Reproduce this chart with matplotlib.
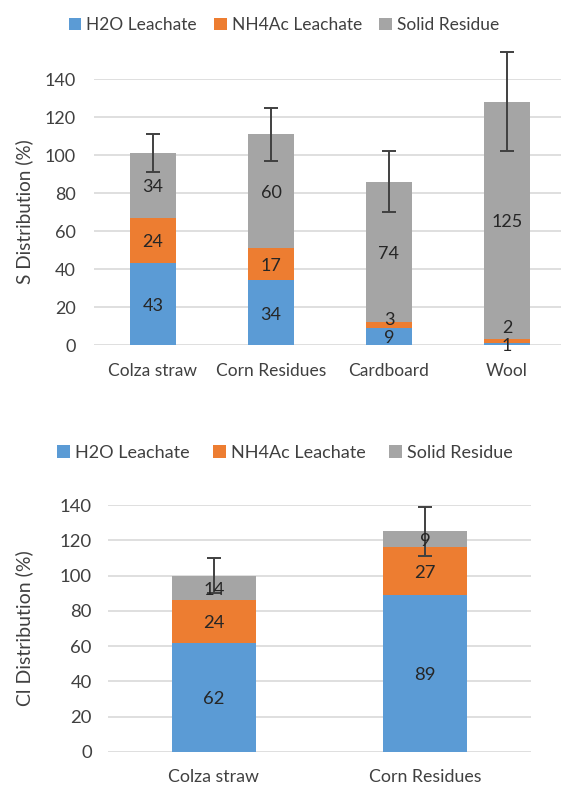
import numpy as np
import matplotlib.pyplot as plt
from matplotlib.patches import Patch

plt.rcParams['font.family'] = ['Lato', 'DejaVu Sans']

series = ['H2O Leachate', 'NH4Ac Leachate', 'Solid Residue']
colors = ['#5B9BD5', '#ED7D31', '#A5A5A5']

# S distribution (%)
s_cats = ['Colza straw', 'Corn Residues', 'Cardboard', 'Wool']
s_h2o = [43, 34, 9, 1]
s_nh4ac = [24, 17, 3, 2]
s_solid = [34, 60, 74, 125]
s_err = [10, 14, 16, 26]

# Cl distribution (%)
cl_cats = ['Colza straw', 'Corn Residues']
cl_h2o = [62, 89]
cl_nh4ac = [24, 27]
cl_solid = [14, 9]
cl_err = [10, 14]

W, H = 561, 789
fig = plt.figure(figsize=(W / 100, H / 100), dpi=100)


def draw(ax, cats, stacks, err, width, ylabel, fs, labpad, xpad, ypad):
    x = np.arange(len(cats))
    bottom = np.zeros(len(cats))
    prev = np.full(len(cats), -1e9)
    for vals, col in zip(stacks, colors):
        vals = np.array(vals, dtype=float)
        ax.bar(x, vals, width, bottom=bottom, color=col, zorder=2)
        for i, v in enumerate(vals):
            yc = max(bottom[i] + v / 2 - 1, prev[i] + 9.5)
            prev[i] = yc
            ax.text(x[i], yc, '%d' % v, ha='center', va='center',
                    fontsize=fs + 1, color='#262626', zorder=4)
        bottom += vals
    eb = ax.errorbar(x, bottom, yerr=err, fmt='none', ecolor='#404040',
                     elinewidth=1.4, capsize=5, capthick=1.4, zorder=3)
    for art in eb.lines[1] + eb.lines[2]:
        art.set_clip_on(False)
    ax.set_xlim(-0.5, len(cats) - 0.5)
    ax.set_ylim(0, 140)
    ax.set_yticks(range(0, 141, 20))
    ax.set_xticks(x)
    ax.set_xticklabels(cats)
    ax.yaxis.grid(True, color='#D9D9D9', linewidth=1.2)
    ax.set_axisbelow(True)
    for sp in ax.spines.values():
        sp.set_visible(False)
    ax.tick_params(length=0, colors='#404040')
    ax.tick_params(axis='x', pad=xpad, labelsize=fs + 0.5)
    ax.tick_params(axis='y', pad=ypad, labelsize=fs + 1)
    ax.set_ylabel(ylabel, fontsize=fs + 1.7, color='#404040')
    ax.yaxis.set_label_coords(labpad, 0.5)


# top axes: x 94..566, y 79..345 px
ax1 = fig.add_axes([94 / W, 1 - 345 / H, 472 / W, 266 / H])
draw(ax1, s_cats, [s_h2o, s_nh4ac, s_solid], s_err, 0.39,
     'S Distribution (%)', 12, (33 - 94) / 472, 13, 13)

# bottom axes: x 108..530, y 505..752 px
ax2 = fig.add_axes([108.5 / W, 1 - 752 / H, 422 / W, 247 / H])
draw(ax2, cl_cats, [cl_h2o, cl_nh4ac, cl_solid], cl_err, 0.4,
     'Cl Distribution (%)', 12.3, (33 - 108.5) / 422, 12, 12)

handles = [Patch(facecolor=c) for c in colors]
fig.legend(handles, series, loc='center', bbox_to_anchor=(284 / W, 1 - 25 / H),
           ncol=3, frameon=False, fontsize=12.5, handlelength=0.7, handleheight=0.7,
           handletextpad=0.3, columnspacing=1.0, labelcolor='#404040')
fig.legend(handles, series, loc='center', bbox_to_anchor=(285 / W, 1 - 453 / H),
           ncol=3, frameon=False, fontsize=13, handlelength=0.7, handleheight=0.7,
           handletextpad=0.3, columnspacing=1.3, labelcolor='#404040')

fig.savefig('out.png', dpi=100)
